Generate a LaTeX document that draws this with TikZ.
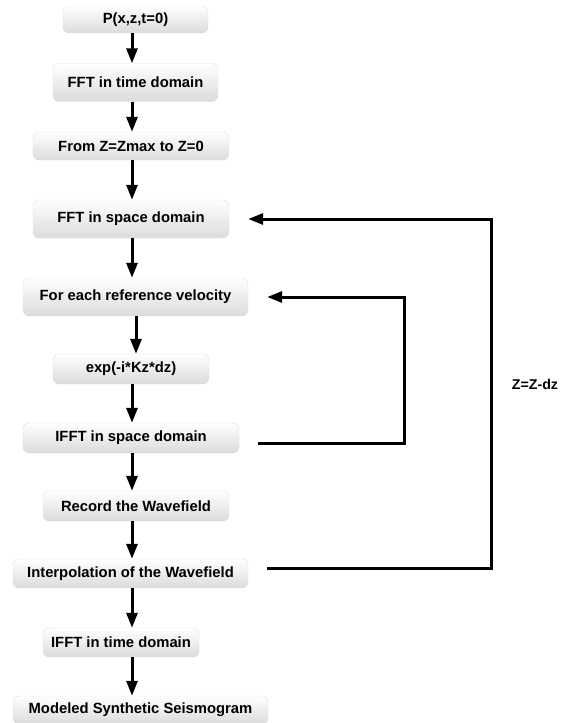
\documentclass[tikz,border=0pt]{standalone}
\usepackage{fontspec}
\setmainfont{Liberation Sans}
\usepackage{tikz}
\usetikzlibrary{arrows.meta, shapes, positioning, calc, shadows}
\tikzset{
  caja/.style={rounded corners=6pt, draw=gray!25, top color=white, bottom color=gray!28,
    inner sep=0pt, text=black, font=\fontsize{14.8}{16}\selectfont\bfseries},
  flecha/.style={line width=3pt, -{Triangle[length=15pt, width=11pt]}}
}
\newcommand{\etapa}[6]{%
  \node[caja, minimum width=#4, minimum height=#5] (#1) at (#2,#3) {#6};%
}

\begin{document}
\begin{tikzpicture}[x=1pt, y=-1pt]
        \useasboundingbox (0,0) rectangle (574,723);
        \etapa{inicio}{135.5}{19.5}{145}{27}{P(x,z,t=0)}
        \etapa{ffttiempo}{135.5}{82.5}{165}{38}{FFT in time domain}
        \etapa{desde}{131}{146}{196}{28}{From Z=Zmax to Z=0}
        \etapa{fftespacio}{131}{219}{196}{38}{FFT in space domain}
        \etapa{velocidad}{135.5}{297}{225}{38}{For each reference velocity}
        \etapa{fase}{131}{369}{156}{30}{exp(-i*Kz*dz)}
        \etapa{ifftespacio}{131}{438}{216}{30}{IFFT in space domain}
        \etapa{registro}{136}{506}{186}{30}{Record the Wavefield}
        \etapa{interp}{130.5}{573.5}{235}{29}{Interpolation of the Wavefield}
        \etapa{iffttiempo}{121}{642.5}{156}{29}{IFFT in time domain}
        \etapa{modelo}{140.5}{710}{255}{28}{Modeled Synthetic Seismogram}
        \coordinate (eje1) at (132,0);
        \coordinate (eje2) at (136,0);
        \coordinate (lazo1) at (404,0);
        \coordinate (lazo2) at (491,0);
        \draw[flecha] (inicio.south -| eje1) -- (ffttiempo.north -| eje1);
        \draw[flecha] (ffttiempo.south -| eje1) -- (desde.north -| eje1);
        \draw[flecha] (desde.south -| eje1) -- (fftespacio.north -| eje1);
        \draw[flecha] (fftespacio.south -| eje1) -- (velocidad.north -| eje1);
        \draw[flecha] (velocidad.south -| eje2) -- (fase.north -| eje2);
        \draw[flecha] (fase.south -| eje1) -- (ifftespacio.north -| eje1);
        \draw[flecha] (ifftespacio.south -| eje1) -- (registro.north -| eje1);
        \draw[flecha] (registro.south -| eje1) -- (interp.north -| eje1);
        \draw[flecha] (interp.south -| eje1) -- (iffttiempo.north -| eje1);
        \draw[flecha] (iffttiempo.south -| eje1) -- (modelo.north -| eje1);
        \draw[flecha, shorten <=19pt, shorten >=19pt] ($(ifftespacio.east)+(0,5)$) -| (lazo1 |- velocidad.east) -- (velocidad.east);
        \draw[flecha, shorten <=19pt, shorten >=19pt] ($(interp.east)+(0,-5)$) -| (lazo2 |- fftespacio.east) -- (fftespacio.east);
        \node[font=\fontsize{14.2}{16}\selectfont\bfseries, text=black] (paso) at (535,384) {Z=Z-dz};
      \end{tikzpicture}
\end{document}
